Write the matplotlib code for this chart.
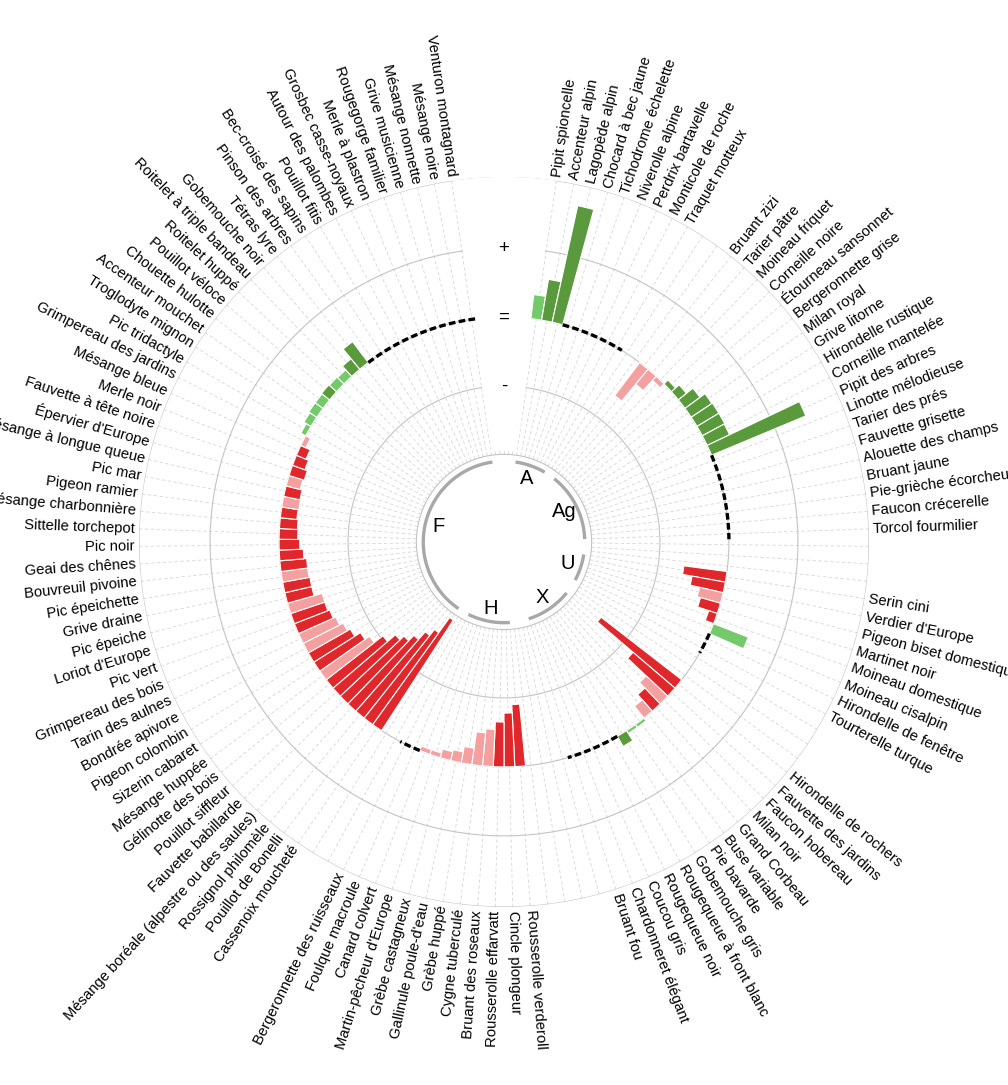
import matplotlib.pyplot as plt
import numpy as np

plt.rcParams['font.family'] = ['Liberation Sans', 'DejaVu Sans']

# habitat groups, clockwise from the top
groups = ['A', 'Ag', 'U', 'X', 'H', 'F']

species_A = ["Pipit spioncelle", "Accenteur alpin", "Lagopède alpin", "Chocard à bec jaune",
             "Tichodrome échelette", "Niverolle alpine", "Perdrix bartavelle", "Monticole de roche",
             "Traquet motteux"]
values_A = [0.35, 0.6, 1.73, 0, 0, 0, 0, 0, 0]
strong_A = [0, 1, 1, 0, 0, 0, 0, 0, 0]

species_Ag = ["Bruant zizi", "Tarier pâtre", "Moineau friquet", "Corneille noire", "Étourneau sansonnet",
              "Bergeronnette grise", "Milan royal", "Grive litorne", "Hirondelle rustique",
              "Corneille mantelée", "Pipit des arbres", "Linotte mélodieuse", "Tarier des prés",
              "Fauvette grisette", "Alouette des champs", "Bruant jaune", "Pie-grièche écorcheur",
              "Faucon crécerelle", "Torcol fourmilier"]
values_Ag = [-0.6, -0.28, -0.08, 0.08, 0.15, 0.27, 0.36, 0.37, 0.37, 0.36, 1.48,
             0, 0, 0, 0, 0, 0, 0, 0]
strong_Ag = [0, 0, 0, 1, 1, 1, 1, 1, 1, 1, 1, 0, 0, 0, 0, 0, 0, 0, 0]

species_U = ["Serin cini", "Verdier d'Europe", "Pigeon biset domestique", "Martinet noir",
             "Moineau domestique", "Moineau cisalpin", "Hirondelle de fenêtre", "Tourterelle turque"]
values_U = [-0.63, -0.49, -0.35, -0.30, -0.13, 0.54, 0, 0]
strong_U = [1, 1, 0, 1, 1, 0, 0, 0]

species_X = ["Hirondelle de rochers", "Fauvette des jardins", "Faucon hobereau", "Milan noir",
             "Grand Corbeau", "Buse variable", "Pie bavarde", "Gobemouche gris",
             "Rougequeue à front blanc", "Rougequeue noir", "Coucou gris", "Chardonneret élégant",
             "Bruant fou"]
values_X = [-1.48, -0.80, -0.43, -0.32, -0.22, 0.05, 0.05, 0.17, 0, 0, 0, 0, 0]
strong_X = [1, 1, 0, 1, 0, 0, 0, 1, 0, 0, 0, 0, 0]

species_H = ["Rousserolle verderoll", "Cincle plongeur", "Rousserolle effarvatt", "Bruant des roseaux",
             "Cygne tuberculé", "Grèbe huppé", "Gallinule poule-d'eau", "Grèbe castagneux",
             "Martin-pêcheur d'Europe", "Canard colvert", "Foulque macroule",
             "Bergeronnette des ruisseaux"]
values_H = [-0.90, -0.78, -0.65, -0.54, -0.48, -0.24, -0.16, -0.13, -0.07, -0.07, 0, 0]
strong_H = [1, 1, 1, 0, 0, 0, 0, 0, 0, 0, 0, 0]

species_F = ["Cassenoix moucheté", "Pouillot de Bonelli", "Rossignol philomèle",
             "Mésange boréale (alpestre ou des saules)", "Fauvette babillarde", "Pouillot siffleur",
             "Gélinotte des bois", "Mésange huppée", "Sizerin cabaret", "Pigeon colombin",
             "Bondrée apivore", "Tarin des aulnes", "Grimpereau des bois", "Pic vert",
             "Loriot d'Europe", "Pic épeiche", "Grive draine", "Pic épeichette", "Bouvreuil pivoine",
             "Geai des chênes", "Pic noir", "Sittelle torchepot", "Mésange charbonnière",
             "Pigeon ramier", "Pic mar", "Mésange à longue queue", "Épervier d'Europe",
             "Fauvette à tête noire", "Merle noir", "Mésange bleue", "Grimpereau des jardins",
             "Pic tridactyle", "Troglodyte mignon", "Accenteur mouchet", "Chouette hulotte",
             "Pouillot véloce", "Roitelet huppé", "Roitelet à triple bandeau", "Gobemouche noir",
             "Tétras lyre", "Pinson des arbres", "Bec-croisé des sapins", "Pouillot fitis",
             "Autour des palombes", "Grosbec casse-noyaux", "Merle à plastron", "Rougegorge familier",
             "Grive musicienne", "Mésange nonnette", "Mésange noire", "Venturon montagnard"]
values_F = [-1.91, -1.64, -1.53, -1.38, -1.27, -1.19, -1.04, -0.88, -0.80, -0.70,
            -0.65, -0.59, -0.55, -0.52, -0.52, -0.40, -0.40, -0.39, -0.39, -0.35,
            -0.30, -0.27, -0.26, -0.24, -0.25, -0.24, -0.21, -0.23, -0.19, -0.15,
            -0.08, 0.08, 0.12, 0.14, 0.14, 0.15, 0.14, 0.13, 0.2, 0.38,
            0, 0, 0, 0, 0, 0, 0, 0, 0, 0, 0]
strong_F = [1, 1, 1, 1, 1, 1, 1, 0, 1, 1,
            0, 0, 1, 1, 0, 1, 1, 0, 1, 1,
            1, 1, 1, 1, 0, 1, 0, 1, 1, 1,
            0, 0, 0, 0, 0, 1, 0, 0, 1, 1,
            0, 0, 0, 0, 0, 0, 0, 0, 0, 0, 0]

group_species = [species_A, species_Ag, species_U, species_X, species_H, species_F]
group_values = [values_A, values_Ag, values_U, values_X, values_H, values_F]
group_strong = [strong_A, strong_Ag, strong_U, strong_X, strong_H, strong_F]

# layout: empty slots before each group, total number of slots round the circle
gap_before = [3, 2, 3, 3, 4, 2]
n_slots = 131
step = 2 * np.pi / n_slots

dark_green = '#5a9a3c'
light_green = '#74c96b'
dark_red = '#e0282c'
light_red = '#f5a0a0'

fig = plt.figure(figsize=(10.08, 10.85), dpi=100)
ax = fig.add_axes([0.5 - 0.3621, 0.5005 - 0.3364, 0.7242, 0.6728], projection='polar')
ax.set_theta_zero_location('N')
ax.set_theta_direction(-1)
r_min, r_out = -3.26, 2.03
ax.set_ylim(r_min, r_out)
ax.axis('off')

r_inner = -1.99
circle = np.linspace(0, 2 * np.pi, 721)

# radial dashed grid
for s in range(n_slots):
    ax.plot([s * step, s * step], [r_inner, r_out], color='#d6d6d6', lw=0.6,
            ls=(0, (4, 3)), zorder=1)
for rr in [r_inner, -1, 0, 1, r_out]:
    ax.plot(circle, np.full_like(circle, rr), color='#c4c4c4', lw=0.8, zorder=1)

# white band at the top for the + = - marks
ax.bar(0, r_out + 0.3 - (r_inner + 0.05), width=np.deg2rad(16), bottom=r_inner + 0.05,
       color='white', zorder=2)
for rr, sym in [(1, '+'), (0, '='), (-1, '-')]:
    ax.text(0, rr, sym, ha='center', va='center', fontsize=13.5, zorder=5)

pos = 0
for g, name_g in enumerate(groups):
    pos += gap_before[g]
    slots = pos + np.arange(len(group_species[g]))
    pos += len(group_species[g])
    theta = slots * step
    vals = np.array(group_values[g], dtype=float)
    strong = np.array(group_strong[g], dtype=bool)

    colors = []
    for v, st in zip(vals, strong):
        if v > 0:
            colors.append(dark_green if st else light_green)
        else:
            colors.append(dark_red if st else light_red)
    nz = vals != 0
    ax.bar(theta[nz], vals[nz], width=step, bottom=0, color=np.array(colors)[nz],
           edgecolor='white', linewidth=0.8, zorder=3)

    # dashed baseline where there is no change
    k = 0
    while k < len(vals):
        if vals[k] == 0:
            j = k
            while j + 1 < len(vals) and vals[j + 1] == 0:
                j += 1
            tt = np.linspace(theta[k] - step / 2, theta[j] + step / 2, 60)
            ax.plot(tt, np.zeros_like(tt), color='black', lw=2.4, ls=(0, (2, 1)),
                    solid_capstyle='butt', zorder=4)
            k = j + 1
        else:
            k += 1

    # group arc and letter in the centre
    tt = np.linspace(theta[0], theta[-1], 80)
    ax.plot(tt, np.full_like(tt, -2.09), color='#a8a8a8', lw=2.4, solid_capstyle='butt', zorder=3)
    ax.text(theta.mean(), -2.28, name_g, ha='center', va='center', fontsize=14.5, zorder=5)

    # species labels
    for t, label in zip(theta, group_species[g]):
        deg = np.degrees(t)
        if deg < 180:
            rot, ha = 90 - deg, 'left'
        else:
            rot, ha = 270 - deg, 'right'
        ax.text(t, r_out + 0.06, label, rotation=rot, rotation_mode='anchor', ha=ha,
                va='center', fontsize=10.6, zorder=5)

fig.savefig('out.png', dpi=100, facecolor='white')
